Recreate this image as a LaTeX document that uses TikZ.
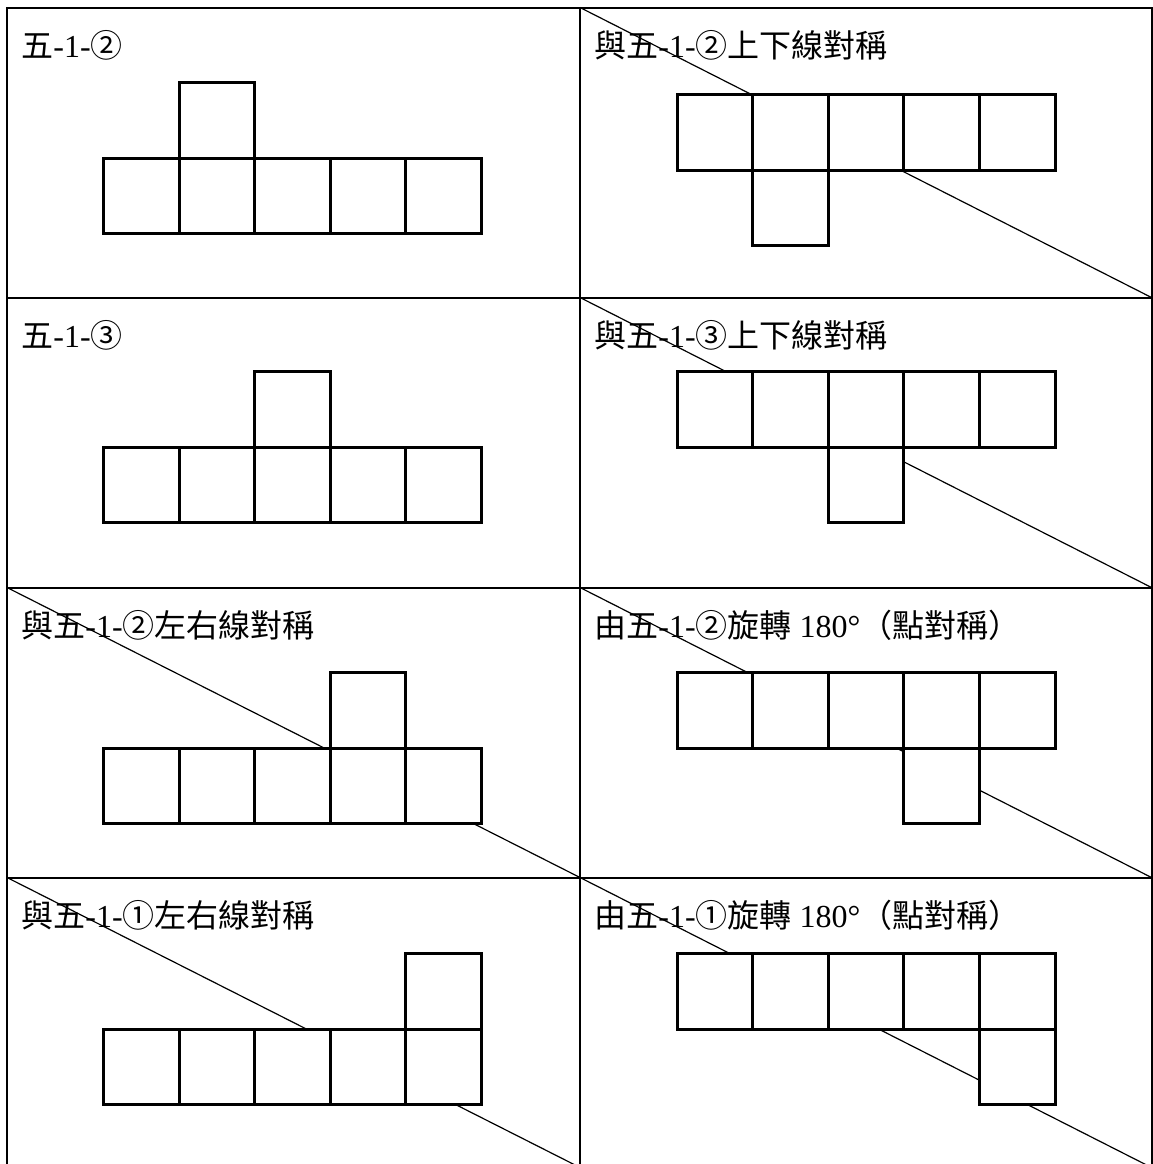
\documentclass[tikz,border=0pt]{standalone}
\usepackage{fontspec}
\setmainfont{Liberation Serif}
\newfontfamily\cjk{Noto Sans CJK TC}
\usetikzlibrary{positioning}

\begin{document}
\begin{tikzpicture}[x=0.5pt, y=-0.5pt,
  every node/.style={font=\fontsize{16}{19}\selectfont, anchor=west, inner sep=0pt},
  grid/.style={line width=1pt},
  diag/.style={line width=0.6pt},
  face/.style={line width=1.5pt, fill=white}]
  \def\s{75.6}
  \useasboundingbox (0,0) rectangle (1153,1164);
  % diagonals behind the nets
  \foreach \y in {7.5,297.5,587.5,877.5}
    \draw[diag] (580,\y) -- (1151.5,\y+290);
  \foreach \y in {587.5,877.5}
    \draw[diag] (7,\y) -- (580,\y+290);
  % nets: row of five plus one extra face
  \foreach \x/\y/\k/\e in {103.5/158.3/1/82.7, 103.5/447/2/371.4,
      103.5/748/3/672.4, 103.5/1029/4/953.4, 677/94.4/1/170,
      677/371.4/2/447, 677/672.4/3/748, 677/953.4/4/1029}{
    \foreach \i in {0,...,4}
      \draw[face] (\x+\i*\s,\y) rectangle ++(\s,\s);
    \draw[face] (\x+\k*\s,\e) rectangle ++(\s,\s);
  }
  % table
  \draw[grid] (7,1164) -- (7,7.5) -- (1151.5,7.5) -- (1151.5,1164);
  \draw[grid] (580,7.5) -- (580,1164);
  \foreach \y in {297.5,587.5,877.5}
    \draw[grid] (7,\y) -- (1151.5,\y);
  % labels
  \node (lblA) at (21,45.5)   {{\cjk 五}-1-{\cjk ②}};
  \node (lblB) at (594,45.5)  {{\cjk 與五}-1-{\cjk ②上下線對稱}};
  \node (lblC) at (21,335.5)  {{\cjk 五}-1-{\cjk ③}};
  \node (lblD) at (594,335.5) {{\cjk 與五}-1-{\cjk ③上下線對稱}};
  \node (lblE) at (21,625.5)  {{\cjk 與五}-1-{\cjk ②左右線對稱}};
  \node (lblF) at (594,625.5) {{\cjk 由五}-1-{\cjk ②旋轉} 180°{\cjk （點對稱）}};
  \node (lblG) at (21,915.5)  {{\cjk 與五}-1-{\cjk ①左右線對稱}};
  \node (lblH) at (594,915.5) {{\cjk 由五}-1-{\cjk ①旋轉} 180°{\cjk （點對稱）}};
\end{tikzpicture}
\end{document}
